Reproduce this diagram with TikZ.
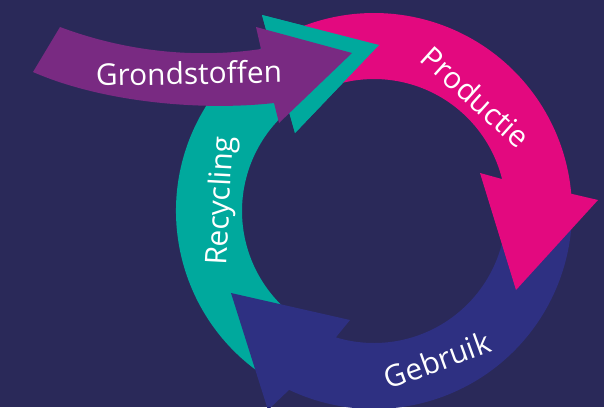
\documentclass[tikz,border=0pt]{standalone}
\usepackage{fontspec}
\setmainfont{Open Sans}
\definecolor{navybg}{HTML}{2A2959}
\definecolor{prodpink}{HTML}{E3097F}
\definecolor{gebrblue}{HTML}{2E3082}
\definecolor{recyteal}{HTML}{00A99D}
\definecolor{grondpurple}{HTML}{792A82}
\begin{document}
\begin{tikzpicture}[x=0.02cm,y=0.02cm,
    lbl/.style={text=white,inner sep=0pt,font=\fontsize{17}{20}\selectfont}]
    \fill[navybg] (-374,-196) rectangle (230,211);
    \useasboundingbox (-374,-196) rectangle (230,211);

    % recycling
    \fill[recyteal] (240:198) arc[start angle=240,end angle=121.8,radius=198] -- (-112,196) -- (5,166) -- (-79,78) -- (130.3:132) arc[start angle=130.3,end angle=240,radius=132] -- cycle;
    % gebruik
    \fill[gebrblue] (-3:198) arc[start angle=-3,end angle=-115.4,radius=198] -- (-106,-199) -- (-143,-82) -- (-24,-109) -- (-106.8:132) arc[start angle=-106.8,end angle=-3,radius=132] -- cycle;
    % productie
    \fill[prodpink] (115:198) arc[start angle=115,end angle=5,radius=198] -- (224,11) -- (142,-79) -- (106,38) -- (14:132) arc[start angle=14,end angle=115,radius=132] -- cycle;
    % teal head over the pink tail
    \fill[recyteal] (-112,196) -- (5,166) -- (-79,78) -- cycle;
    % grondstoffen
    \fill[grondpurple] (-314,184) .. controls (-250,160) and (-180,152) .. (-113,162) -- (-118,184) -- (-22,158) -- (-95,88) -- (-100,108) .. controls (-170,100) and (-270,108) .. (-341,139) -- cycle;

    \node[lbl,rotate=1] (grond) at (-185,138) {Grondstoffen};
    \node[lbl,rotate=-42] (prod) at (102,114) {Productie};
    \node[lbl,rotate=20] (gebr) at (63,-149) {Gebruik};
    \node[lbl,rotate=87] (recy) at (-152,10) {Recycling};
\end{tikzpicture}
\end{document}
